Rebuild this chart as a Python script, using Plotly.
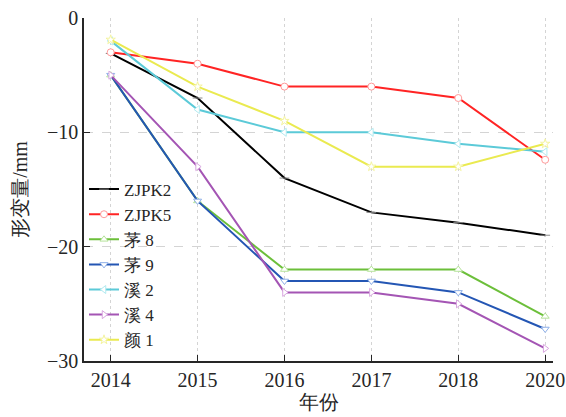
import plotly.graph_objects as go

years = ["2014", "2015", "2016", "2017", "2018", "2020"]
names = ["ZJPK2", "ZJPK5", "茅 8", "茅 9", "溪 2", "溪 4", "颜 1"]
zjpk2 = [-3.1, -7.0, -14.0, -17.0, -17.9, -19.0]
zjpk5 = [-3.0, -4.0, -6.0, -6.0, -7.0, -12.4]
mao8 = [-5.0, -16.0, -22.0, -22.0, -22.0, -26.1]
mao9 = [-5.0, -16.0, -23.0, -23.0, -24.0, -27.2]
xi2 = [-2.0, -8.0, -10.0, -10.0, -11.0, -11.7]
xi4 = [-5.0, -13.0, -24.0, -24.0, -25.0, -28.9]
yan1 = [-1.9, -6.0, -9.0, -13.0, -13.0, -11.0]
y_ticks = [0, -10, -20, -30]

series = [zjpk2, zjpk5, mao8, mao9, xi2, xi4, yan1]
line_colors = ["#000000", "#FF2424", "#6CBF3A", "#2456B4", "#5CCAD8", "#A455B4", "#EAEA50"]
marker_colors = ["#888888", "#FF9A9A", "#B5E39A", "#8FB0E8", "#B2EAF0", "#D9A6E0", "#F4F4A0"]
symbols = ["line-ew", "circle", "triangle-up", "triangle-down", "triangle-left", "triangle-right", "star"]

FONT = "Liberation Serif"

fig = go.Figure()
for name, vals, lc, mc, sym in zip(names, series, line_colors, marker_colors, symbols):
    fig.add_trace(go.Scatter(
        x=years, y=vals, name=name, mode="lines+markers",
        line=dict(color=lc, width=2),
        marker=dict(symbol=sym, size=7, color="white",
                    line=dict(color=mc, width=1)),
    ))

fig.update_layout(
    width=566, height=417,
    margin=dict(l=84, r=13, t=18, b=56),
    paper_bgcolor="white", plot_bgcolor="white",
    font=dict(family=FONT, size=20, color="#262626"),
    showlegend=True,
    legend=dict(x=0.0, y=0.01, xanchor="left", yanchor="bottom",
                bgcolor="rgba(0,0,0,0)", borderwidth=0,
                font=dict(size=17, family=FONT), tracegroupgap=0,
                itemwidth=30),
    xaxis=dict(
        type="category", range=[-0.307, 5.09], automargin=False,
        tickmode="array", tickvals=years, ticktext=years,
        showline=True, linecolor="#262626", linewidth=1.5,
        ticks="inside", ticklen=6, tickcolor="#262626",
        showgrid=True, gridcolor="#D4D4D4", griddash="dot", gridwidth=1,
        zeroline=False, ticklabeloverflow="allow",
        title=dict(text="年份", standoff=2, font=dict(size=20)),
    ),
    yaxis=dict(
        range=[-30, 0], tickmode="array", tickvals=y_ticks, automargin=False,
        showline=True, linecolor="#262626", linewidth=1.5,
        ticks="inside", ticklen=6, tickcolor="#262626",
        showgrid=True, gridcolor="#D4D4D4", griddash="dash", gridwidth=1,
        zeroline=False, ticklabeloverflow="allow",
        title=dict(text="形变量/mm", standoff=14, font=dict(size=20)),
    ),
)

fig.write_html("out.html",
               config={"displayModeBar": False},
               post_script="document.body.style.margin='0';document.body.style.overflow='hidden';")
